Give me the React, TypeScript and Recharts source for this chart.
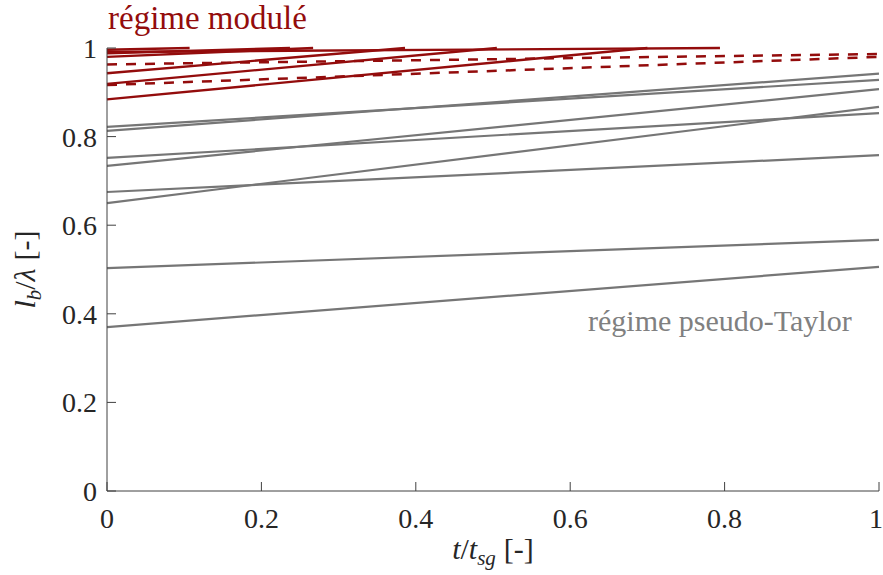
import { LineChart, Line, XAxis, YAxis } from 'recharts';

// axis ticks
const xTicks = [0, 0.2, 0.4, 0.6, 0.8, 1];
const yTicks = [0, 0.2, 0.4, 0.6, 0.8, 1];

// pseudo-Taylor regime: straight runs from t=0 to t=1
const grayStart = [0.37, 0.503, 0.65, 0.675, 0.734, 0.752, 0.813, 0.822];
const grayEnd = [0.506, 0.567, 0.867, 0.758, 0.907, 0.853, 0.942, 0.928];

// modulated regime: solid runs climb until they reach the top of the axes
const redStart = [0.996, 0.991, 0.988, 0.98, 0.943, 0.919, 0.884];
const redEndT = [0.107, 0.794, 0.237, 0.267, 0.386, 0.505, 0.7];
const redCeiling = 1;

// modulated regime: dashed runs over the whole interval
const dashStart = [0.963, 0.9165];
const dashEnd = [0.9865, 0.98];

const GRAY = '#767676';
const RED = '#930c0c';
const AXIS = '#404040';
const FONT = "'Liberation Serif', 'DejaVu Serif', 'Times New Roman', serif";

const graySeries = grayStart.map((s, i) => [
  { x: 0, y: s },
  { x: 1, y: grayEnd[i] },
]);
const redSeries = redStart.map((s, i) => [
  { x: 0, y: s },
  { x: redEndT[i], y: redCeiling },
]);
const dashSeries = dashStart.map((s, i) => [
  { x: 0, y: s },
  { x: 1, y: dashEnd[i] },
]);

const tickStyle = { fill: '#262626', fontSize: 28, fontFamily: FONT };

function XTitle({ viewBox }: any) {
  const cx = viewBox.x + viewBox.width / 2;
  return (
    <text x={cx} y={viewBox.y + 68} textAnchor="middle" fontFamily={FONT} fontSize={30} fill="#262626">
      <tspan fontStyle="italic">t</tspan>
      <tspan>/</tspan>
      <tspan fontStyle="italic">t</tspan>
      <tspan fontStyle="italic" fontSize={21} dy={6}>sg</tspan>
      <tspan dy={-6} dx={8}>[-]</tspan>
    </text>
  );
}

function YTitle({ viewBox }: any) {
  const cy = viewBox.y + viewBox.height / 2;
  const x = 35;
  return (
    <text
      x={x}
      y={cy}
      transform={`rotate(-90, ${x}, ${cy})`}
      textAnchor="middle"
      fontFamily={FONT}
      fontSize={30}
      fill="#262626"
    >
      <tspan fontStyle="italic">l</tspan>
      <tspan fontStyle="italic" fontSize={21} dy={6}>b</tspan>
      <tspan dy={-6}>/</tspan>
      <tspan fontStyle="italic">λ</tspan>
      <tspan dx={8}>[-]</tspan>
    </text>
  );
}

export default function App() {
  return (
    <div style={{ position: 'absolute', left: 0, top: 0, width: 883, height: 575, background: '#fff' }}>
      <LineChart width={883} height={575} margin={{ top: 48, right: 4, bottom: 0, left: 0 }}>
        <XAxis
          xAxisId="b"
          dataKey="x"
          type="number"
          domain={[0, 1]}
          ticks={xTicks}
          height={84}
          stroke={AXIS}
          tickSize={-9}
          tickMargin={26}
          tick={tickStyle}
          label={<XTitle />}
        />
        <XAxis
          xAxisId="t"
          orientation="top"
          dataKey="x"
          type="number"
          domain={[0, 1]}
          ticks={xTicks}
          height={0}
          stroke={AXIS}
          tickSize={-9}
          tick={false}
        />
        <YAxis
          yAxisId="l"
          type="number"
          domain={[0, 1]}
          ticks={yTicks}
          width={107}
          stroke={AXIS}
          tickSize={-9}
          tickMargin={19}
          tick={tickStyle}
          label={<YTitle />}
        />
        <YAxis
          yAxisId="r"
          orientation="right"
          type="number"
          domain={[0, 1]}
          ticks={yTicks}
          width={0}
          stroke={AXIS}
          tickSize={-9}
          tick={false}
        />
        {graySeries.map((d, i) => (
          <Line
            key={`g${i}`}
            xAxisId="b"
            yAxisId="l"
            data={d}
            dataKey="y"
            stroke={GRAY}
            strokeWidth={2.2}
            dot={false}
            activeDot={false}
            isAnimationActive={false}
          />
        ))}
        {dashSeries.map((d, i) => (
          <Line
            key={`d${i}`}
            xAxisId="b"
            yAxisId="l"
            data={d}
            dataKey="y"
            stroke={RED}
            strokeWidth={2.5}
            strokeDasharray="10 9"
            dot={false}
            activeDot={false}
            isAnimationActive={false}
          />
        ))}
        {redSeries.map((d, i) => (
          <Line
            key={`r${i}`}
            xAxisId="b"
            yAxisId="l"
            data={d}
            dataKey="y"
            stroke={RED}
            strokeWidth={2.4}
            dot={false}
            activeDot={false}
            isAnimationActive={false}
          />
        ))}
        <text x={108} y={29} fontFamily={FONT} fontSize={33} fill={RED}>
          régime modulé
        </text>
        <text x={588} y={331} fontFamily={FONT} fontSize={30} fill="#808080">
          régime pseudo-Taylor
        </text>
      </LineChart>
    </div>
  );
}
